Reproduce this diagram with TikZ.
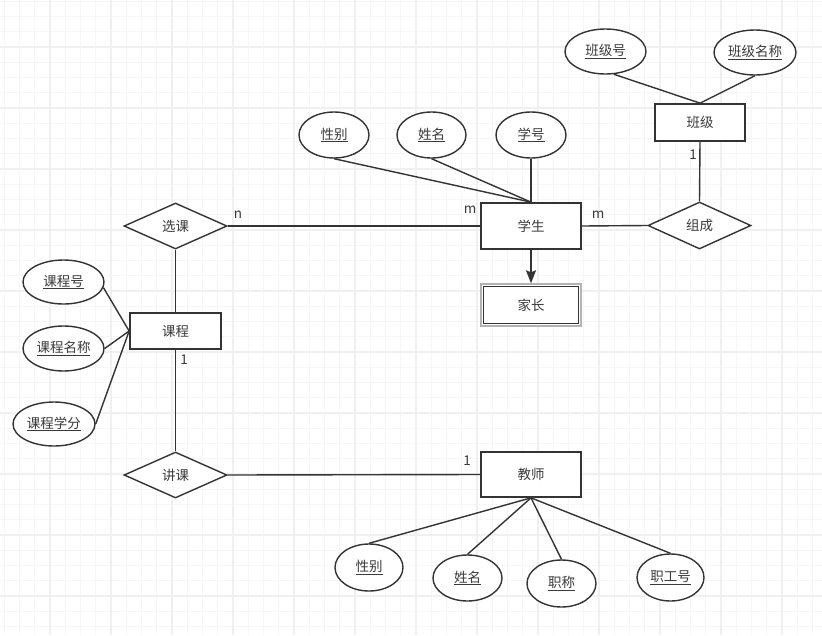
\documentclass[tikz,border=0pt]{standalone}
\usepackage{fontspec}
\setmainfont{Noto Sans CJK SC}
\usetikzlibrary{shapes.geometric,arrows.meta}

\definecolor{ink}{HTML}{333333}
\definecolor{txt}{HTML}{3A3A3A}
\definecolor{gridminor}{HTML}{F6F6F6}
\definecolor{gridmajor}{HTML}{F0F0F0}

\tikzset{
  base/.style={draw=ink, line width=1.4pt, fill=white, text=txt,
               font=\fontsize{13.5pt}{15pt}\selectfont, inner sep=0pt},
  entity/.style={base, rectangle, line width=1.7pt, minimum width=100pt, minimum height=46pt},
  attr/.style={base, ellipse, minimum width=70pt, minimum height=46pt},
  relation/.style={base, diamond, minimum width=103pt, minimum height=46pt},
  link/.style={draw=ink, line width=1.4pt},
  card/.style={text=txt, font=\fontsize{13.5pt}{15pt}\selectfont, inner sep=0pt},
  minorline/.style={draw=gridminor, line width=1.2pt},
  majorline/.style={draw=gridmajor, line width=1.3pt}
}

\begin{document}
\begin{tikzpicture}[x=1pt,y=-1pt]
\useasboundingbox (0,0) rectangle (822,635);
\fill[white] (0,0) rectangle (822,635);

% background grid
\foreach \i in {0,...,54} \draw[minorline] ({4.25+15.25*\i},0) -- ({4.25+15.25*\i},635);
\foreach \i in {0,...,42} \draw[minorline] (0,{1.25+15.25*\i}) -- (822,{1.25+15.25*\i});
\foreach \i in {0,...,13} \draw[majorline] ({50+61*\i},0) -- ({50+61*\i},635);
\foreach \i in {0,...,10} \draw[majorline] (0,{47+61*\i}) -- (822,{47+61*\i});

% entities
\node[entity] (stu) at (531,226) {学生};
\node[entity, minimum width=90pt, minimum height=37pt] (cls) at (700,122.5) {班级};
\node[entity, minimum width=91pt, minimum height=36pt] (crs) at (175.5,331) {课程};
\node[entity, minimum height=45pt] (tch) at (531,474.5) {教师};
\node[base, draw=gray!60, line width=1.4pt, minimum width=100pt, minimum height=42pt] (parout) at (531,305) {};
\node[entity, minimum width=95pt, minimum height=37pt] (par) at (531,305) {家长};

% relationships
\node[relation] (sel) at (175.5,226) {选课};
\node[relation, minimum height=47pt] (grp) at (699.5,225.5) {组成};
\node[relation] (tea) at (175.5,475) {讲课};

% student attributes
\node[attr] (sSex) at (334,135) {\underline{性别}};
\node[attr, minimum width=69pt] (sName) at (431.5,135) {\underline{姓名}};
\node[attr] (sNo) at (531,135) {\underline{学号}};

% class attributes
\node[attr, minimum width=81pt, minimum height=45pt] (cNo) at (605.5,51.5) {\underline{班级号}};
\node[attr, minimum width=82pt, minimum height=45pt] (cName) at (755,52.5) {\underline{班级名称}};

% course attributes
\node[attr, minimum width=81pt, minimum height=44pt] (kNo) at (63.5,282) {\underline{课程号}};
\node[attr, minimum width=81pt, minimum height=45pt] (kName) at (63.5,348.5) {\underline{课程名称}};
\node[attr, minimum width=82pt, minimum height=44pt] (kCredit) at (54,424) {\underline{课程学分}};

% teacher attributes
\node[attr, minimum width=68pt, minimum height=47pt] (tSex) at (369,567.5) {\underline{性别}};
\node[attr, minimum width=69pt] (tName) at (467.5,578) {\underline{姓名}};
\node[attr, minimum width=69pt, minimum height=47pt] (tTitle) at (561.5,583.5) {\underline{职称}};
\node[attr, minimum width=67pt, minimum height=47pt] (tId) at (670.5,577.5) {\underline{职工号}};

% connectors
\draw[link] (sSex.south) -- (stu.north);
\draw[link] (sName.south) -- (stu.north);
\draw[link] (sNo.south) -- (stu.north);
\draw[link] (cNo.-70) -- (cls.north);
\draw[link] (cName.south) -- (cls.north);
\draw[link] (cls.south) -- (grp.north);
\draw[link] (stu.east) -- (grp.west);
\draw[link] (sel.east) -- (stu.west);
\draw[link] (sel.south) -- (crs.north);
\draw[link] (crs.south) -- (tea.north);
\draw[link] (tea.east) -- (tch.west);
\draw[link] (kNo.-8) -- (crs.west);
\draw[link] (kName.east) -- (crs.west);
\draw[link] (kCredit.east) -- (crs.west);
\draw[link] (tch.south) -- (tSex.north);
\draw[link] (tch.south) -- (tName.north);
\draw[link] (tch.south) -- (tTitle.north);
\draw[link] (tch.south) -- (tId.north);
\draw[link, -{Stealth[length=13pt, width=10pt, inset=2pt]}] (stu.south) -- (parout.north);

% cardinalities
\node[card] (c1) at (238,215) {n};
\node[card] (c2) at (470,210) {m};
\node[card] (c3) at (598,215) {m};
\node[card] (c4) at (693,155) {1};
\node[card] (c5) at (184,360) {1};
\node[card] (c6) at (467,461) {1};
\end{tikzpicture}
\end{document}
